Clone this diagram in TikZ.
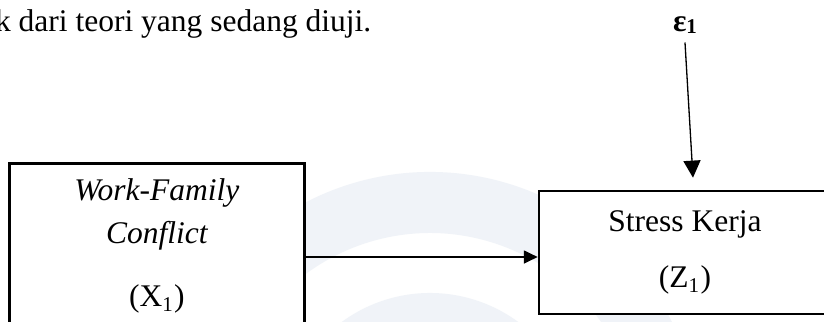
\documentclass[tikz,border=0pt]{standalone}
\usepackage{fontspec}
\setmainfont{Liberation Serif}
\usepackage{tikz}
\usetikzlibrary{arrows.meta}
\usetikzlibrary{positioning}
\definecolor{wmark}{RGB}{240,243,248}
\tikzset{var/.style={rectangle,draw=black,line width=1pt,fill=white,align=center,inner sep=0pt,font=\fontsize{12}{16.4}\selectfont}}
\tikzset{conn/.style={-{Triangle[length=5.3pt,width=5pt]},line width=0.5pt}}
\tikzset{errconn/.style={-{Triangle[length=6.5pt,width=6.5pt]},line width=0.5pt}}

\begin{document}
\begin{tikzpicture}[font=\fontsize{12}{14.4}\selectfont]

\clip (0,0) rectangle (11.032,4.311);
\fill[white] (0,0) rectangle (11.032,4.311);

% faded logo rings in the background
\begin{scope}[shift={(5.757,-1.607)}]
\foreach \ro/\ri in {3.615/2.798, 1.995/1.2}
  {
 \fill[wmark] (20:\ro) arc[start angle=20,end angle=160,radius=\ro]
   -- (160:\ri) arc[start angle=160,end angle=20,radius=\ri] -- cycle;
 }
\end{scope}

\node[anchor=base west] (intro) at (-0.19, 3.889) {k dari teori yang sedang diuji.};

\node[var, minimum width=3.95cm, minimum height=2.216cm, anchor=north west] (X) at (0.107, 2.142)
  {\itshape Work-Family\\ \itshape Conflict\\[7.6pt] (X\textsubscript{1})};
\node[var, minimum width=3.91cm, minimum height=1.647cm] (Z) at (9.171, 0.930)
  {\raisebox{-2pt}{Stress Kerja}\\[6.8pt] (Z\textsubscript{1})};

\node (e) at (9.171, 3.976) {\bfseries ε\raisebox{-0.6pt}{\fontsize{8}{8}\selectfont 1}};
\coordinate[above right=0.161cm and 0.107cm of Z.north] (etip);

\draw[conn] ([yshift=-0.06cm]X.east |- Z.west) -- ([yshift=-0.06cm]Z.west);
\draw[errconn] (e.south) -- (etip);

\end{tikzpicture}
\end{document}
